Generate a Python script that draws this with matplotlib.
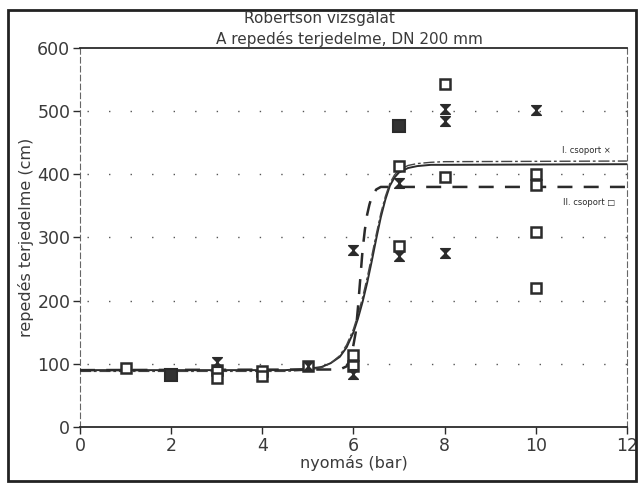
import matplotlib as mpl
mpl.use("Agg")
import matplotlib.pyplot as plt
from matplotlib.path import Path
from matplotlib.patches import Rectangle

mpl.rcParams["font.family"] = ["DejaVu Sans"]

# measured points, group I (hourglass markers)
g1_x = [3, 5, 6, 6, 7, 7, 8, 8, 8, 10]
g1_y = [103, 96, 84, 280, 386, 270, 503, 484, 275, 502]

# measured points, group II (square markers)
g2_x = [1, 3, 3, 4, 4, 5, 6, 6, 7, 7, 8, 8, 10, 10, 10, 10]
g2_y = [93, 90, 78, 89, 81, 96, 114, 97, 413, 286, 543, 396, 400, 383, 308, 220]
g2_fill_x = [2, 7]
g2_fill_y = [83, 476]

# fitted curves
fit1_x = [0, 4.5, 5.0, 5.3, 5.5, 5.7, 5.85, 6.0, 6.1, 6.2, 6.3, 6.4, 6.5,
          6.6, 6.7, 6.8, 6.9, 7.0, 7.2, 7.4, 7.7, 8.0, 12]
fit1_y = [90, 90, 92, 95, 101, 111, 126, 150, 172, 198, 228, 262, 298,
          332, 360, 382, 395, 403, 410, 413, 415, 415, 416]
fit1b_y = [88, 88, 90, 94, 101, 113, 130, 155, 178, 205, 236, 270, 305,
           338, 365, 386, 399, 407, 414, 417, 419, 420, 421]
fit2_x = [0, 5.7, 5.85, 5.95, 6.05, 6.1, 6.15, 6.2, 6.25, 6.3, 6.35, 6.4, 6.5, 6.6, 12]
fit2_y = [90, 91, 96, 110, 150, 190, 235, 280, 312, 336, 352, 364, 376, 380, 380]

grid_y = [100, 200, 300, 400, 500]
x_ticks = [0, 2, 4, 6, 8, 10, 12]
y_ticks = [0, 100, 200, 300, 400, 500, 600]

ink = "#2b2b2b"
hourglass = Path([(-1, 1), (1, 1), (-1, -1), (1, -1), (-1, 1)],
                 [Path.MOVETO, Path.LINETO, Path.LINETO, Path.LINETO, Path.CLOSEPOLY])

fig = plt.figure(figsize=(6.43, 4.83), dpi=100)
ax = fig.add_axes([0.1244, 0.116, 0.8506, 0.7847])

for gy in grid_y:
    ax.plot([0.15, 12], [gy, gy], color="#555555", lw=1.0,
            linestyle=(0, (1, 14.5)), zorder=1)

ax.plot(fit1_x, fit1_y, color=ink, lw=1.4, zorder=3)
ax.plot(fit1_x, fit1b_y, color="#444444", lw=1.0,
        linestyle=(0, (8, 2, 2, 2)), zorder=3)
ax.plot(fit2_x, fit2_y, color=ink, lw=1.8,
        linestyle=(0, (6, 4.5)), zorder=3)

ax.plot(g2_x, g2_y, linestyle="none", marker="s", ms=7, mfc="white",
        mec=ink, mew=1.8, zorder=4)
ax.plot(g2_fill_x, g2_fill_y, linestyle="none", marker="s", ms=8, mfc="#333333",
        mec=ink, mew=1.5, zorder=4)
ax.plot(g1_x, g1_y, linestyle="none", marker=hourglass, ms=7, mfc=ink,
        mec=ink, mew=1.0, zorder=5)

ax.text(11.65, 438, "I. csoport ×", fontsize=6, ha="right", va="center", color=ink)
ax.text(11.75, 356, "II. csoport □", fontsize=6, ha="right", va="center", color=ink)

ax.set_xlim(0, 12)
ax.set_ylim(0, 600)
ax.set_xticks(x_ticks)
ax.set_yticks(y_ticks)
ax.tick_params(axis="both", labelsize=12.5, colors=ink, direction="out",
               length=5, width=1.0, pad=2)
for lab in ax.get_xticklabels() + ax.get_yticklabels():
    lab.set_color("#3a3a3a")
for s in ["top", "bottom"]:
    ax.spines[s].set_color(ink)
    ax.spines[s].set_linewidth(1.3)
for s in ["left", "right"]:
    ax.spines[s].set_color("#666666")
    ax.spines[s].set_linewidth(0.8)
    ax.spines[s].set_linestyle((0, (5, 3)))

ax.set_xlabel("nyomás (bar)", fontsize=11.5, color="#3a3a3a", labelpad=0)
ax.set_ylabel("repedés terjedelme (cm)", fontsize=11.5, color="#3a3a3a", labelpad=2)

fig.text(0.497, 0.962, "Robertson vizsgálat", fontsize=11, ha="center", va="center",
         color="#3a3a3a")
fig.text(0.543, 0.920, "A repedés terjedelme, DN 200 mm", fontsize=11, ha="center",
         va="center", color="#3a3a3a")

fig.patches.append(Rectangle((8 / 643, 0.004), 628 / 643, 0.975, transform=fig.transFigure,
                             fill=False, edgecolor="#222222", lw=2.0))

fig.savefig("out.png", dpi=100)
